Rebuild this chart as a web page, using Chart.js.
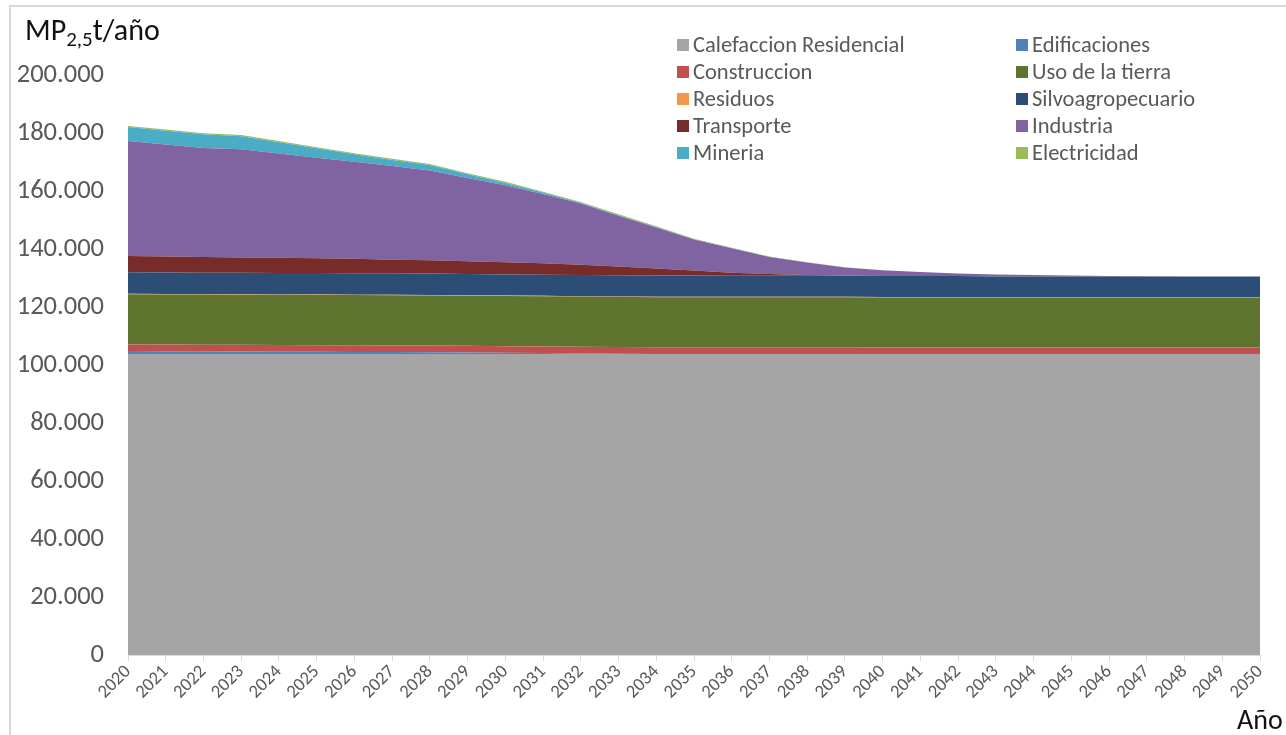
<!DOCTYPE html>
<html lang="es">
<head>
<meta charset="utf-8">
<title>MP2,5 t/año por sector</title>
<script src="https://cdn.jsdelivr.net/npm/chart.js@4/dist/chart.umd.min.js"></script>
<style>
    html, body { margin: 0; padding: 0; background: #fff; }
    body { width: 1286px; height: 735px; position: relative; overflow: hidden; font-family: Carlito, Lato, sans-serif; }
    #frame { position: absolute; left: 9px; top: 5px; width: 1400px; height: 800px; border-top: 2px solid #d9d9d9; border-left: 2px solid #d9d9d9; }
    #chart { position: absolute; left: 0; top: 0; }
    #titulo { position: absolute; left: 25px; top: 11px; font-size: 30px; color: #111; white-space: nowrap; }
    #titulo sub { font-size: 21px; vertical-align: -6px; }
    #eje-x { position: absolute; left: 1237px; top: 702px; font-size: 28px; color: #111; }
    #leyenda { position: absolute; left: 677px; top: 31px; display: grid; grid-template-columns: 339px 220px; row-gap: 0px; }
    .item { display: flex; align-items: center; font-size: 22.5px; color: #595959; height: 27px; white-space: nowrap; }
    .item span.box { display: inline-block; width: 12px; height: 12px; margin-right: 4px; }
</style>
</head>
<body>
<div id="frame"></div>
<canvas id="chart" width="1286" height="735"></canvas>
<div id="titulo">MP<sub>2,5</sub>t/año</div>
<div id="eje-x">Año</div>
<div id="leyenda"></div>

<script>
// Años (eje X)
const anios = [2020, 2021, 2022, 2023, 2024, 2025, 2026, 2027, 2028, 2029, 2030,
               2031, 2032, 2033, 2034, 2035, 2036, 2037, 2038, 2039, 2040,
               2041, 2042, 2043, 2044, 2045, 2046, 2047, 2048, 2049, 2050];

// Emisiones por sector (t/año)
const calefaccion = [103800, 103800, 103800, 103800, 103800, 103800, 103800, 103800, 103800, 103800, 103800,
                     103800, 103800, 103800, 103800, 103800, 103800, 103800, 103800, 103800, 103800,
                     103800, 103800, 103800, 103800, 103800, 103800, 103800, 103800, 103800, 103800];
const edificaciones = [1000, 950, 900, 850, 800, 750, 700, 650, 600, 500, 400,
                       300, 200, 100, 0, 0, 0, 0, 0, 0, 0,
                       0, 0, 0, 0, 0, 0, 0, 0, 0, 0];
const construccion = [2300, 2300, 2300, 2300, 2300, 2300, 2300, 2300, 2300, 2300, 2300,
                      2300, 2300, 2300, 2300, 2300, 2300, 2300, 2300, 2300, 2200,
                      2200, 2200, 2200, 2200, 2200, 2200, 2200, 2200, 2200, 2200];
const usoTierra = [17300, 17300, 17300, 17300, 17300, 17300, 17300, 17300, 17300, 17300, 17300,
                   17300, 17300, 17300, 17300, 17300, 17300, 17300, 17300, 17300, 17300,
                   17300, 17300, 17300, 17300, 17300, 17300, 17300, 17300, 17300, 17300];
const residuos = [150, 150, 150, 150, 150, 150, 150, 150, 150, 150, 150,
                  150, 150, 150, 150, 150, 150, 150, 150, 150, 150,
                  150, 150, 150, 150, 150, 150, 150, 150, 150, 150];
const silvoagropecuario = [7400, 7400, 7400, 7400, 7400, 7400, 7400, 7400, 7400, 7300, 7300,
                           7300, 7300, 7300, 7300, 7300, 7200, 7200, 7200, 7200, 7200,
                           7200, 7200, 7100, 7100, 7100, 7100, 7100, 7100, 7100, 7100];
const transporte = [5600, 5500, 5400, 5300, 5200, 5100, 5000, 4700, 4600, 4400, 4200,
                    3900, 3500, 3000, 2400, 1700, 1100, 600, 300, 100, 0,
                    0, 0, 0, 0, 0, 0, 0, 0, 0, 0];
const industria = [39700, 38600, 37600, 37300, 36000, 34700, 33400, 32300, 30900, 28700, 26500,
                   23900, 21100, 17500, 14200, 10700, 8400, 5900, 4300, 2800, 2000,
                   1400, 900, 700, 500, 300, 150, 50, 0, 0, 0];
const mineria = [4800, 4800, 4700, 4500, 3900, 3200, 2600, 2100, 1900, 1300, 800,
                 500, 300, 200, 100, 0, 0, 0, 0, 0, 0,
                 0, 0, 0, 0, 0, 0, 0, 0, 0, 0];
const electricidad = [400, 400, 400, 400, 400, 400, 400, 400, 400, 400, 400,
                      300, 300, 300, 300, 300, 200, 200, 100, 100, 0,
                      0, 0, 0, 0, 0, 0, 0, 0, 0, 0];

// Ticks del eje Y
const ticksY = [0, 20000, 40000, 60000, 80000, 100000, 120000, 140000, 160000, 180000, 200000];

// Nombres y colores de las series (orden de apilado)
const nombres = ['Calefaccion Residencial', 'Edificaciones', 'Construccion', 'Uso de la tierra', 'Residuos',
                 'Silvoagropecuario', 'Transporte', 'Industria', 'Mineria', 'Electricidad'];
const series = [calefaccion, edificaciones, construccion, usoTierra, residuos,
                silvoagropecuario, transporte, industria, mineria, electricidad];
const colores = ['#a5a5a5', '#4f81bd', '#c0504d', '#5f752f', '#f79646',
                 '#2c4d75', '#772c2a', '#8064a2', '#4bacc6', '#9bbb59'];

const FUENTE = 'Carlito, Lato, sans-serif';

// Formato con punto como separador de miles
function formatoMiles(valor) {
    return String(valor).replace(/\B(?=(\d{3})+(?!\d))/g, '.');
}

// Leyenda en dos columnas
function crearLeyenda() {
    const cont = document.getElementById('leyenda');
    cont.innerHTML = nombres.map((n, i) => `
        <div class="item"><span class="box" style="background:${colores[i]}"></span>${n}</div>
    `).join('');
}

function crearGrafico() {
    const ctx = document.getElementById('chart').getContext('2d');
    new Chart(ctx, {
        type: 'line',
        data: {
            labels: anios,
            datasets: series.map((datos, i) => ({
                label: nombres[i],
                data: datos,
                backgroundColor: colores[i],
                borderColor: colores[i],
                borderWidth: 0,
                pointRadius: 0,
                tension: 0,
                fill: i === 0 ? 'origin' : '-1'
            }))
        },
        options: {
            responsive: false,
            animation: false,
            events: [],
            layout: { padding: { left: 0, top: 75, right: 26, bottom: 0 } },
            plugins: {
                legend: { display: false },
                tooltip: { enabled: false }
            },
            scales: {
                x: {
                    offset: false,
                    grid: { display: true, drawOnChartArea: false, drawTicks: true, tickLength: 6, color: '#d9d9d9' },
                    border: { display: true, color: '#d9d9d9' },
                    ticks: {
                        autoSkip: false,
                        minRotation: 45,
                        maxRotation: 45,
                        padding: 0,
                        color: '#595959',
                        font: { family: FUENTE, size: 18.5 }
                    },
                    afterFit: function(scale) { scale.height = 80; }
                },
                y: {
                    stacked: true,
                    min: 0,
                    max: 200000,
                    afterBuildTicks: function(scale) {
                        scale.ticks = ticksY.map(v => ({ value: v }));
                    },
                    grid: { display: false, drawTicks: false },
                    border: { display: false },
                    ticks: {
                        padding: 24,
                        color: '#595959',
                        font: { family: FUENTE, size: 26.5 },
                        callback: function(value) { return formatoMiles(value); }
                    },
                    afterFit: function(scale) { scale.width = 128; }
                }
            }
        }
    });
}

document.addEventListener('DOMContentLoaded', function() {
    crearLeyenda();
    crearGrafico();
});
</script>
</body>
</html>
